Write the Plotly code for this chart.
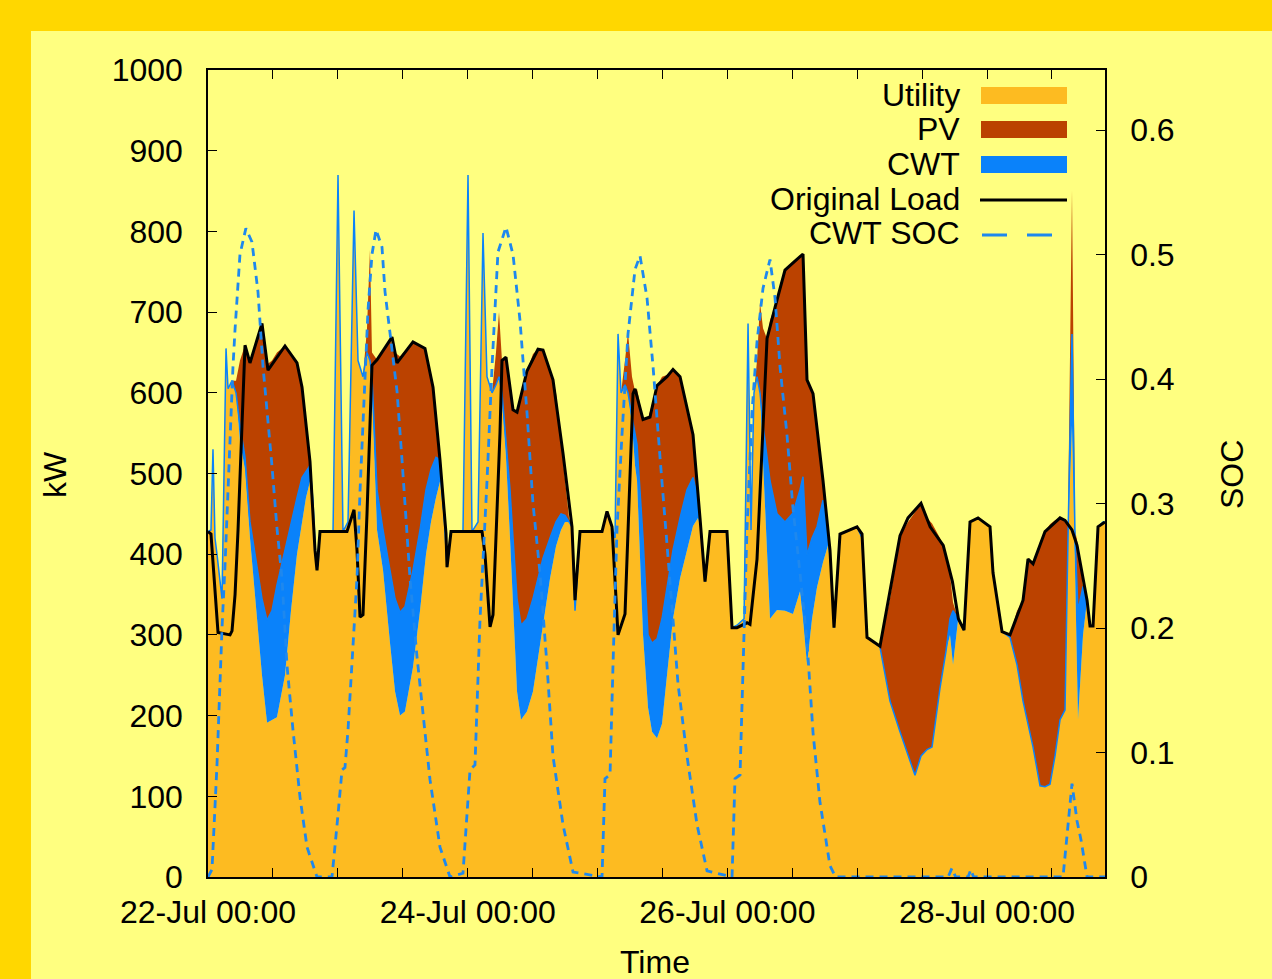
import plotly.graph_objects as go
from datetime import datetime, timedelta

# ---------------- data ----------------
START = datetime(2012, 7, 22, 0, 0)
END_HOURS = 165.8

# stacked supply, kW, at hour offsets from 22-Jul 00:00
STACK_HOURS = [
    0.0, 0.55, 0.92, 1.29, 1.66, 2.59, 3.33, 3.70, 4.44, 5.18, 5.91, 6.84, 7.76, 8.69, 9.24, 9.98,
    10.91, 11.83, 12.75, 14.23, 15.34, 16.45, 17.38, 18.11, 18.85, 19.41, 19.96, 20.33, 20.70, 23.11,
    24.03, 24.95, 25.88, 26.99, 27.73, 28.65, 29.39, 29.94,
    30.31, 31.24, 32.35, 33.64, 34.57, 35.49, 36.41, 37.89, 39.19, 40.30, 41.22, 42.14, 42.88, 43.62,
    44.18, 44.92, 47.13, 48.06, 48.80, 49.91, 50.83, 51.57, 52.50, 53.23, 53.79, 54.34,
    55.08, 55.82, 56.38, 57.12, 57.86, 58.96, 60.07, 61.00, 61.92, 63.22, 64.33, 65.25, 65.99, 66.73,
    67.28, 67.84, 68.76, 72.83, 73.75, 74.68, 75.23, 75.79, 76.34, 77.08, 77.63, 78.37,
    78.93, 79.30, 80.41, 81.33, 82.07, 83.00, 83.92, 84.84, 85.95, 87.25, 88.54, 89.65, 90.57, 91.13,
    91.87, 92.79, 95.93, 96.86, 97.78, 99.08, 99.82, 100.37, 100.92, 101.48, 102.03, 102.59,
    103.33, 103.88, 105.18, 106.65, 108.13, 109.43, 109.98, 110.72, 111.65, 112.57, 113.68, 114.60,
    115.16, 115.71, 116.82, 119.96, 120.89, 121.81,
    124.21, 126.06, 127.91, 129.39, 130.68, 131.79, 132.90, 133.83, 135.30, 136.41, 137.15, 137.71,
    138.63, 139.74, 140.85, 142.33, 144.55, 145.10, 146.77,
    148.24, 149.54, 150.65, 151.57, 152.50, 153.79, 154.71, 155.64, 156.56, 157.49, 158.41, 158.96,
    159.70, 160.26, 160.81, 161.74, 162.48, 163.03, 163.59, 164.51, 165.43, 165.80,
]
UTILITY = [
    428, 430, 530, 420, 400, 345, 655, 605, 615, 600, 540, 505, 420, 350, 306, 250,
    191, 195, 198, 250, 330, 400, 440, 470, 490, 440, 390, 385, 428, 428,
    870, 428, 440, 826, 640, 620, 650, 640,
    600, 430, 380, 290, 230, 200, 205, 260, 330, 400, 440, 470, 490, 440,
    384, 428, 428, 870, 428, 440, 798, 620, 600, 610, 620, 590,
    520, 420, 340, 230, 195, 205, 230, 270, 310, 370, 410, 430, 440, 440,
    434, 330, 428, 428, 453, 434, 420, 673, 600, 610, 600, 560,
    510, 491, 300, 210, 180, 172, 190, 250, 320, 370, 405, 435, 445, 430,
    366, 428, 428, 309, 312, 320, 686, 430, 600, 620, 600, 520,
    400, 320, 331, 330, 326, 354, 320, 263, 320, 359, 390, 411,
    380, 309, 425, 434, 420, 297,
    285, 218, 180, 150, 126, 150, 158, 161, 234, 280, 300, 263,
    318, 306, 440, 445, 434, 377, 304,
    297, 263, 218, 190, 161, 113, 112, 115, 150, 195, 207, 420,
    560, 380, 195, 300, 343, 311, 311, 434, 440, 440,
]
CWT = [
    0, 0, 0, 0, 0, 0, 0, 0, 0, 0, 20, 15, 20, 50, 69, 95,
    127, 135, 164, 155, 110, 70, 55, 32, 20, 25, 0, 0, 0, 0,
    0, 0, 0, 0, 0, 0, 0, 0,
    20, 50, 50, 90, 115, 128, 130, 120, 100, 80, 65, 50, 27, 10,
    0, 0, 0, 0, 0, 0, 0, 0, 0, 0, 0, 10,
    25, 60, 80, 115, 117, 115, 115, 100, 85, 50, 30, 20, 8, 0,
    0, 0, 0, 0, 0, 0, 0, 0, 0, 0, 0, 10,
    40, 45, 120, 90, 110, 123, 130, 110, 85, 75, 75, 60, 25, 0,
    0, 0, 0, 0, 0, 0, 0, 0, 0, 0, 0, 40,
    120, 171, 119, 110, 125, 126, 176, 136, 100, 75, 77, 19,
    0, 0, 0, 0, 0, 0,
    0, 0, 0, 0, 0, 0, 0, 0, 0, 0, 20, 67,
    2, 0, 0, 0, 0, 0, 0,
    0, 0, 0, 0, 0, 0, 0, 0, 0, 0, 0, 0,
    113, 40, 135, 60, 0, 0, 0, 0, 0, 0,
]
PV = [
    0, 0, 0, 0, 0, 0, 0, 0, 0, 15, 80, 139, 197, 260, 295, 341,
    317, 310, 288, 253, 205, 167, 112, 58, 5, 0, 0, 0, 0, 0,
    0, 0, 0, 0, 0, 0, 30, 137,
    30, 161, 220, 287, 305, 317, 317, 283, 228, 172, 115, 50, 0, 0,
    0, 0, 0, 0, 0, 0, 0, 0, 0, 40, 80, 40,
    99, 120, 159, 231, 288, 307, 303, 284, 258, 210, 160, 90, 47, 5,
    0, 0, 0, 0, 0, 0, 0, 0, 0, 30, 75, 50,
    52, 69, 147, 268, 295, 314, 300, 262, 224, 175, 100, 53, 0, 0,
    0, 0, 0, 0, 0, 0, 0, 0, 0, 20, 112, 120,
    147, 199, 265, 312, 310, 288, 276, 217, 180, 126, 24, 0,
    0, 0, 0, 0, 0, 0,
    1, 127, 243, 290, 326, 313, 287, 277, 186, 120, 55, 10,
    0, 0, 0, 0, 0, 0, 0,
    3, 67, 125, 204, 227, 302, 316, 322, 292, 250, 233, 20,
    178, 10, 81, 0, 0, 0, 0, 0, 0, 0,
]

LOAD_HOURS = [
    0.0, 0.55, 1.85, 4.07, 4.44, 5.0, 5.55, 6.84, 7.76, 9.98, 11.09, 14.23, 16.45, 17.38, 18.85,
    19.78, 20.15, 20.70, 25.69, 26.99, 27.54, 28.10, 28.65, 29.39, 30.31, 31.24, 34.01, 34.94,
    37.89, 40.11, 41.59, 42.88, 43.99, 44.18, 44.92, 50.65, 51.20, 52.13, 52.68, 53.97, 54.34,
    55.08, 56.38, 57.12, 58.96, 61.00, 61.92, 63.77, 65.62, 67.28, 67.84, 68.76, 72.83, 73.75,
    74.68, 75.79, 77.08, 78.56, 78.93, 80.41, 81.70, 83.00, 84.84, 85.95, 87.25, 89.65, 90.94,
    91.87, 92.79, 95.93, 96.86, 97.78, 99.63, 100.18, 101.48, 102.59, 103.33, 104.81, 106.65,
    108.13, 109.98, 110.72, 111.83, 113.68, 114.97, 115.71, 116.82, 119.96, 120.89, 121.81,
    124.21, 127.91, 129.39, 131.79, 133.48, 135.90, 137.60, 138.70, 139.74, 140.85, 142.33,
    144.55, 145.10, 146.77, 148.24, 150.65, 151.57, 152.50, 154.71, 157.49, 158.41, 159.70,
    160.63, 162.48, 163.03, 163.59, 164.51, 165.80,
]
LOAD = [
    428, 425, 303, 300, 305, 350, 430, 659, 637, 686, 628, 658, 637, 607, 515,
    405, 380, 428, 428, 455, 405, 322, 325, 450, 634, 641, 669, 637,
    663, 655, 607, 517, 426, 384, 428, 428, 400, 310, 325, 550, 640,
    644, 579, 576, 627, 654, 653, 616, 525, 434, 343, 428, 428, 453,
    434, 300, 326, 599, 605, 567, 570, 609, 620, 629, 620, 548, 445,
    366, 428, 428, 309, 309, 315, 313, 394, 548, 667, 706, 752,
    761, 772, 616, 599, 491, 405, 309, 425, 434, 425, 297,
    286, 423, 445, 463, 434, 411, 366, 320, 306, 440, 445,
    434, 377, 304, 300, 343, 394, 388, 428, 445, 442, 430,
    411, 343, 311, 311, 434, 440,
]

SOC_HOURS = [
    0.0, 0.74, 1.66, 2.22, 2.59, 3.14, 4.07, 4.62, 5.0, 5.91, 7.0, 8.13, 9.24, 10.17, 11.83, 12.75,
    13.68, 14.6, 15.71, 17.01, 18.3, 20.15, 22.92, 23.48, 24.03, 24.77, 25.32, 25.88, 26.62, 27.54,
    28.1, 28.47, 29.02, 29.57, 30.31, 31.06, 32.16, 32.72, 33.64, 34.94, 35.86, 36.78, 37.34, 38.63,
    39.74, 41.04, 42.88, 44.73, 47.13, 48.43, 49.35, 50.28, 51.57, 52.5, 53.6, 55.08, 56.38, 57.67,
    58.96, 60.07, 61.37, 62.66, 63.77, 65.62, 67.47, 72.83, 73.38, 74.31, 74.86, 75.6, 76.52, 77.63,
    78.93, 79.85, 81.15, 82.26, 83.55, 84.84, 85.95, 86.88, 88.54, 90.39, 92.24, 96.86, 97.41, 98.34,
    98.89, 99.63, 100.55, 101.48, 102.59, 103.88, 104.81, 105.73, 107.02, 108.13, 109.43, 110.72,
    111.83, 113.12, 114.97, 116.0, 136.8, 137.5, 138.2, 140.5, 141.0, 141.5, 158.04, 159.7, 160.63,
    161.36, 162.48, 165.8,
]
SOC = [
    0.0, 0.006, 0.09, 0.16, 0.20, 0.25, 0.36, 0.41, 0.44, 0.50, 0.521, 0.51, 0.47, 0.41, 0.33, 0.28,
    0.24, 0.17, 0.118, 0.064, 0.024, 0.0, 0.0, 0.024, 0.05, 0.086, 0.088, 0.118, 0.17, 0.24,
    0.31, 0.35, 0.40, 0.455, 0.50, 0.52, 0.506, 0.47, 0.437, 0.39, 0.335, 0.28, 0.24, 0.177,
    0.13, 0.078, 0.024, 0.0, 0.003, 0.086, 0.09, 0.207, 0.318, 0.41, 0.502, 0.522, 0.50, 0.447,
    0.373, 0.30, 0.244, 0.17, 0.097, 0.042, 0.004, 0.0, 0.079, 0.082, 0.17, 0.28, 0.355, 0.436,
    0.488, 0.499, 0.465, 0.41, 0.337, 0.263, 0.207, 0.155, 0.097, 0.042, 0.005, 0.0, 0.079, 0.082,
    0.17, 0.28, 0.373, 0.43, 0.473, 0.496, 0.465, 0.41, 0.355, 0.296, 0.244, 0.189,
    0.116, 0.06, 0.009, 0.0, 0.0, 0.007, 0.0, 0.0, 0.006, 0.0, 0.0, 0.075, 0.045,
    0.03, 0.0, 0.0,
]

X_TICK_VALUES = ["2012-07-22 00:00", "2012-07-24 00:00", "2012-07-26 00:00", "2012-07-28 00:00"]
X_TICK_TEXT = ["22-Jul 00:00", "24-Jul 00:00", "26-Jul 00:00", "28-Jul 00:00"]
LEGEND_NAMES = ["Utility", "PV", "CWT", "Original Load", "CWT SOC"]

assert len(STACK_HOURS) == len(UTILITY) == len(CWT) == len(PV)
assert len(LOAD_HOURS) == len(LOAD)
assert len(SOC_HOURS) == len(SOC)

# ---------------- style ----------------
GOLD = "#FFD700"
PANEL = "#FFFF80"
UTIL_C = "#FDBB21"
PV_C = "#BB4200"
CWT_C = "#0A82FA"
SOC_C = "#1E88EE"
FONT = "Liberation Sans, Arial, Helvetica, sans-serif"
FS = 32

W, H = 1272, 979
PL, PR, PT, PB = 208, 1105, 70, 877  # plot area in pixels


def px(x):
    return (x - PL) / (PR - PL)


def py(y):
    return (PB - y) / (PB - PT)


def t(hours):
    return [START + timedelta(hours=h) for h in hours]


fig = go.Figure()
ts = t(STACK_HOURS)
fig.add_trace(go.Scatter(x=ts, y=UTILITY, name=LEGEND_NAMES[0], stackgroup="supply", mode="lines",
                         line=dict(width=0, color=UTIL_C), fillcolor=UTIL_C, showlegend=False))
fig.add_trace(go.Scatter(x=ts, y=CWT, name=LEGEND_NAMES[2], stackgroup="supply", mode="lines",
                         line=dict(width=1.5, color=CWT_C), fillcolor=CWT_C, showlegend=False))
fig.add_trace(go.Scatter(x=ts, y=PV, name=LEGEND_NAMES[1], stackgroup="supply", mode="lines",
                         line=dict(width=0, color=PV_C), fillcolor=PV_C, showlegend=False))
fig.add_trace(go.Scatter(x=t(LOAD_HOURS), y=LOAD, name=LEGEND_NAMES[3], mode="lines",
                         line=dict(color="black", width=3), showlegend=False))
fig.add_trace(go.Scatter(x=t(SOC_HOURS), y=SOC, name=LEGEND_NAMES[4], mode="lines", yaxis="y2",
                         line=dict(color=SOC_C, width=2.8, dash="8px,6px"), showlegend=False))

shapes = [
    # light inner panel
    dict(type="rect", xref="paper", yref="paper", x0=px(31), x1=px(W + 5), y0=py(H + 5), y1=py(31),
         fillcolor=PANEL, line=dict(width=0), layer="below"),
]
annotations = []
rows_y = [95, 129, 164, 199, 233]
for name, yy in zip(LEGEND_NAMES, rows_y):
    annotations.append(dict(text=name, xref="paper", yref="paper", x=px(962), y=py(yy),
                            xanchor="right", yanchor="middle", showarrow=False,
                            font=dict(family=FONT, size=FS, color="black")))
for col, yy in zip([UTIL_C, PV_C, CWT_C], rows_y[:3]):
    shapes.append(dict(type="rect", xref="paper", yref="paper", x0=px(981), x1=px(1067),
                       y0=py(yy + 9), y1=py(yy - 8), fillcolor=col, line=dict(width=0)))
shapes.append(dict(type="line", xref="paper", yref="paper", x0=px(980), x1=px(1067),
                   y0=py(rows_y[3] + 1), y1=py(rows_y[3] + 1), line=dict(color="black", width=3)))
shapes.append(dict(type="line", xref="paper", yref="paper", x0=px(982), x1=px(1056),
                   y0=py(rows_y[4] + 2), y1=py(rows_y[4] + 2),
                   line=dict(color=SOC_C, width=2.8, dash="25px,20px")))

# axis titles
annotations += [
    dict(text="kW", xref="paper", yref="paper", x=px(55), y=py(475), textangle=-90,
         showarrow=False, xanchor="center", yanchor="middle", font=dict(family=FONT, size=FS)),
    dict(text="SOC", xref="paper", yref="paper", x=px(1232), y=py(475), textangle=-90,
         showarrow=False, xanchor="center", yanchor="middle", font=dict(family=FONT, size=FS)),
    dict(text="Time", xref="paper", yref="paper", x=px(655), y=py(962),
         showarrow=False, xanchor="center", yanchor="middle", font=dict(family=FONT, size=FS)),
]

axis_common = dict(showgrid=False, zeroline=False, showline=True, linecolor="black", linewidth=1.5,
                   ticks="inside", ticklen=9, tickwidth=1.2, tickcolor="black",
                   tickfont=dict(family=FONT, size=FS, color="black"))

fig.update_layout(
    width=W, height=H, autosize=False,
    margin=dict(l=PL, r=W - PR, t=PT, b=H - PB, pad=0),
    paper_bgcolor=GOLD, plot_bgcolor=PANEL,
    showlegend=False,
    font=dict(family=FONT, size=FS, color="black"),
    xaxis=dict(type="date", range=[START, START + timedelta(hours=END_HOURS)],
               tickmode="array", tickvals=X_TICK_VALUES, ticktext=X_TICK_TEXT,
               mirror="ticks", ticklabelstandoff=6,
               minor=dict(dtick=12 * 3600 * 1000, ticks="inside", ticklen=9, tickcolor="black",
                          showgrid=False),
               **axis_common),
    yaxis=dict(range=[0, 1000], tickmode="linear", tick0=0, dtick=100, mirror=True,
               ticklabelstandoff=17, **axis_common),
    yaxis2=dict(overlaying="y", side="right", range=[0, (PB - PT) / 1245.0], tickmode="linear",
                tick0=0, dtick=0.1, ticklabelstandoff=17, **axis_common),
    shapes=shapes,
    annotations=annotations,
)

fig.write_html("out.html", include_plotlyjs=True, config={"displayModeBar": False},
               post_script="document.body.style.margin='0';document.body.style.padding='0';"
                           "document.body.style.overflow='hidden';")
